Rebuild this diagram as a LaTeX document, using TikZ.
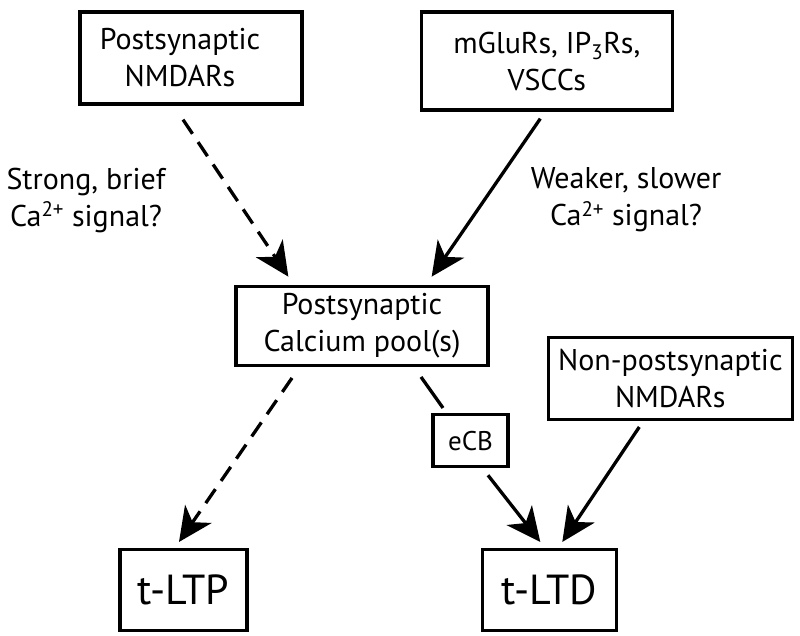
\documentclass[tikz,border=0pt]{standalone}
\usepackage{fontspec}
\setmainfont{PT Sans}
\usetikzlibrary{arrows.meta,positioning,calc}

\begin{document}
\begin{tikzpicture}[
    x=1pt, y=-1pt,
    box/.style={draw, rectangle, line width=3.3pt, inner sep=0pt, align=center, font=\fontsize{30}{37}\selectfont},
    txt/.style={inner sep=0pt, align=center, font=\fontsize{30}{37}\selectfont},
    small/.style={box, font=\fontsize{27}{32}\selectfont},
    result/.style={box, minimum height=81pt, font=\fontsize{42}{48}\selectfont},
    arrow/.style={draw, line width=3.3pt, -{Stealth[length=34pt, width=32pt, inset=10pt]}},
    dasharrow/.style={arrow, dash pattern=on 17pt off 10pt}
]
    \useasboundingbox (0,0) rectangle (800,635);

    % Nodes
    \node[box, minimum width=222pt, minimum height=92pt] (nmda) at (191,58) {};
    \node[txt] (nmdatext) at ($(nmda)+(-11,0)$) {Postsynaptic\\NMDARs};

    \node[box, minimum width=251pt, minimum height=98pt, right=116pt of nmda, yshift=-3pt] (mglu) {mGluRs, IP\textsubscript{3}Rs,\\VSCCs};

    \node[txt] (strong) at (86,200) {Strong, brief\\Ca\textsuperscript{2+} signal?};
    \node[txt] (weaker) at (626,200) {Weaker, slower\\Ca\textsuperscript{2+} signal?};

    \node[box, minimum width=252pt, minimum height=79pt, below=179pt of nmda, xshift=171pt] (pool) {Postsynaptic\\Calcium pool(s)};
    \node[box, minimum width=244pt, minimum height=82pt, right=57pt of pool, yshift=-52.5pt] (nonpost) {Non-postsynaptic\\NMDARs};

    \node[small, minimum width=75pt, minimum height=52pt, below=46pt of pool, xshift=108.5pt] (ecb) {eCB};

    \node[result, minimum width=127pt, below=181pt of pool, xshift=-178.5pt] (ltp) {t-LTP};
    \node[result, minimum width=134pt, right=232pt of ltp] (ltd) {t-LTD};

    % Connections
    \path[dasharrow] ($(nmda.south)+(-8,14)$) -- ($(pool.north west)+(54,-8)$);
    \path[arrow] ($(mglu.south)+(-6.5,7)$) -- ($(pool.north east)+(-58,-8)$);

    \path[dasharrow] ($(pool.south)+(-70,11)$) -- ($(ltp.north)+(-4.5,-6)$);
    \draw[line width=3.3pt] ($(pool.south)+(59,10)$) -- ($(ecb.north)+(-27.5,-5)$);
    \path[arrow] ($(ecb.south)+(17.5,7)$) -- ($(ltd.north)+(-9,-6)$);
    \path[arrow] ($(nonpost.south)+(-31,6)$) -- ($(ltd.north)+(13,-6)$);

\end{tikzpicture}
\end{document}
